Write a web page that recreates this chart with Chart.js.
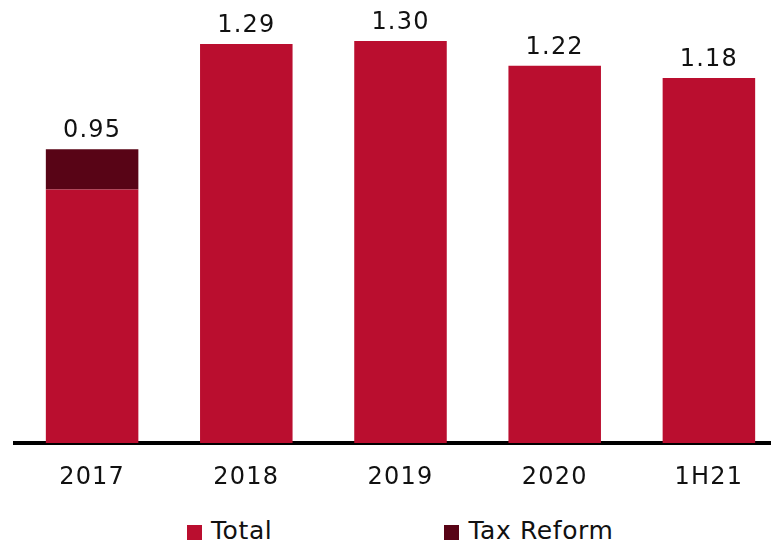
<!DOCTYPE html>
<html>
<head>
<meta charset="utf-8">
<script src="https://cdn.jsdelivr.net/npm/chart.js@4/dist/chart.umd.min.js"></script>
<style>
  html, body { margin: 0; padding: 0; background: #fff; overflow: hidden; }
  #wrap { position: relative; width: 786px; height: 542px; }
  #chart { display: block; }
  .legend { position: absolute; top: 516px; left: 187px; display: flex; align-items: center;
            font-family: "DejaVu Sans", sans-serif; font-size: 25px; color: #111; letter-spacing: 0.6px; }
  .legend .item { display: flex; align-items: center; }
  .legend .swatch { width: 15px; height: 15px; margin-right: 9px; margin-top: 4px; }
</style>
</head>
<body>
<div id="wrap">
  <canvas id="chart" width="786" height="493"></canvas>
  <div class="legend" id="legend"></div>
</div>
<script>
const periods = ['2017', '2018', '2019', '2020', '1H21'];
const totalValues = [0.82, 1.29, 1.30, 1.22, 1.18];
const taxReformValues = [0.13, 0, 0, 0, 0];

const seriesNames = ['Total', 'Tax Reform'];
const seriesColors = ['#ba0e2f', '#580416'];

// slightly wider letter spacing for all canvas text
const spacedText = {
    id: 'spacedText',
    beforeDraw(chart) {
        chart.ctx.letterSpacing = '1.2px';
    },
};

// writes the summed value above each stacked column
const stackLabels = {
    id: 'stackLabels',
    afterDatasetsDraw(chart) {
        const { ctx } = chart;
        const yScale = chart.scales.y;
        const xScale = chart.scales.x;
        ctx.save();
        ctx.font = '24px "DejaVu Sans", sans-serif';
        ctx.fillStyle = '#111';
        ctx.textAlign = 'center';
        ctx.textBaseline = 'alphabetic';
        periods.forEach((p, i) => {
            const sum = totalValues[i] + taxReformValues[i];
            const x = xScale.getPixelForValue(i);
            const y = yScale.getPixelForValue(sum);
            ctx.fillText(sum.toFixed(2), x, y - 12);
        });
        ctx.restore();
    },
};

new Chart(document.getElementById('chart'), {
    type: 'bar',
    data: {
        labels: periods,
        datasets: [
            { label: seriesNames[0], data: totalValues, backgroundColor: seriesColors[0] },
            { label: seriesNames[1], data: taxReformValues, backgroundColor: seriesColors[1] },
        ],
    },
    options: {
        responsive: false,
        animation: false,
        layout: { padding: { top: 10, left: 15, right: 0, bottom: 0 } },
        datasets: { bar: { barPercentage: 0.6, categoryPercentage: 1 } },
        plugins: { legend: { display: false }, tooltip: { enabled: false } },
        scales: {
            x: {
                stacked: true,
                z: 1,
                grid: { display: false },
                border: { display: true, color: '#000', width: 4 },
                ticks: { color: '#111', padding: 12, font: { family: '"DejaVu Sans", sans-serif', size: 24 } },
                afterFit: (s) => { s.height = 50; },
            },
            y: {
                stacked: true,
                display: false,
                min: 0,
                max: 1.4,
            },
        },
    },
    plugins: [spacedText, stackLabels],
});

const legend = document.getElementById('legend');
seriesNames.forEach((name, i) => {
    const item = document.createElement('div');
    item.className = 'item';
    if (i > 0) item.style.marginLeft = '172px';
    item.innerHTML = '<span class="swatch" style="background:' + seriesColors[i] + '"></span><span>' + name + '</span>';
    legend.appendChild(item);
});
</script>
</body>
</html>
